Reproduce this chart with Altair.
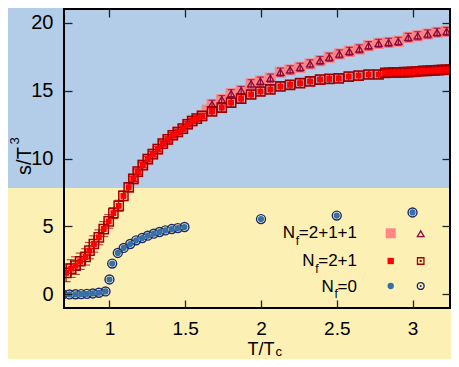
import altair as alt
import pandas as pd

FONT = "Liberation Sans"

x_tick_values = [1, 1.5, 2, 2.5, 3]
y_tick_values = [0, 5, 10, 15, 20]

# N_f = 2+1 : filled red squares + open squares (with errors)
t_21 = [0.714, 0.747, 0.776, 0.807, 0.842, 0.868, 0.897, 0.930, 0.962, 0.995,
        1.026, 1.061, 1.092, 1.127, 1.158, 1.187, 1.220, 1.253, 1.286, 1.319,
        1.352, 1.385, 1.418, 1.451, 1.484, 1.516, 1.546, 1.576, 1.611, 1.677,
        1.741, 1.803, 1.869, 1.935, 1.996, 2.062, 2.128, 2.192, 2.258, 2.324,
        2.390, 2.451, 2.513, 2.579, 2.644, 2.710, 2.776,
        2.820, 2.845, 2.870, 2.895, 2.920, 2.945, 2.970, 2.995, 3.020, 3.045,
        3.070, 3.095, 3.120, 3.145, 3.170, 3.195, 3.220, 3.245, 3.270, 3.295]
s_21 = [1.59, 1.90, 2.12, 2.44, 2.76, 3.22, 3.71, 4.20, 4.81, 5.37,
        5.98, 6.52, 7.25, 7.88, 8.50, 9.03, 9.52, 9.96, 10.32, 10.69,
        11.10, 11.40, 11.71, 11.95, 12.20, 12.52, 12.76, 12.94, 13.13, 13.47,
        13.74, 14.11, 14.40, 14.71, 14.93, 15.08, 15.30, 15.42, 15.54, 15.67,
        15.81, 15.86, 15.90, 16.03, 16.10, 16.18, 16.18,
        16.30, 16.31, 16.32, 16.33, 16.34, 16.35, 16.36, 16.37, 16.40, 16.42,
        16.44, 16.45, 16.46, 16.48, 16.50, 16.52, 16.53, 16.54, 16.55, 16.56]
err_21 = [0.65, 0.65, 0.65, 0.6, 0.6, 0.6, 0.6, 0.55, 0.55, 0.5,
          0.4, 0.4, 0.35, 0.3, 0.2, 0.2, 0.2, 0.2, 0.2, 0.2,
          0.2, 0.2, 0.2, 0.2, 0.2, 0.2, 0.2, 0.2, 0.2, 0.3,
          0.3, 0.3, 0.3, 0.3, 0.3, 0.3, 0.3, 0.3, 0.3, 0.3,
          0.3, 0.3, 0.3, 0.3, 0.3, 0.3, 0.3,
          0.25, 0.25, 0.25, 0.25, 0.25, 0.25, 0.25, 0.25, 0.25, 0.25,
          0.25, 0.25, 0.25, 0.25, 0.25, 0.25, 0.25, 0.25, 0.25, 0.25]

# N_f = 2+1+1 : open triangles (with errors)
t_211 = [1.677, 1.741, 1.803, 1.869, 1.935, 1.996, 2.062, 2.128, 2.192, 2.258,
         2.324, 2.390, 2.451, 2.517, 2.583, 2.649, 2.710, 2.776, 2.842, 2.906,
         2.972, 3.034, 3.100, 3.162, 3.225, 3.287]
s_211 = [13.98, 14.33, 14.77, 15.00, 15.50, 15.69, 15.91, 16.35, 16.52, 16.71,
         16.96, 17.20, 17.45, 17.69, 17.88, 18.06, 18.30, 18.47, 18.54, 18.62,
         18.91, 19.03, 19.16, 19.28, 19.35, 19.45]
err_211 = [0.3, 0.3, 0.3, 0.3, 0.3, 0.3, 0.3, 0.3, 0.3, 0.3,
           0.3, 0.3, 0.3, 0.3, 0.3, 0.3, 0.3, 0.3, 0.3, 0.3,
           0.3, 0.3, 0.3, 0.3, 0.3, 0.3]

# N_f = 2+1+1 : filled pink squares (band)
t_211b = [1.158, 1.187, 1.220, 1.253, 1.286, 1.319, 1.352, 1.385, 1.418, 1.451,
          1.484, 1.516, 1.546, 1.576, 1.611, 1.645,
          1.677, 1.741, 1.803, 1.869, 1.935, 1.996, 2.062, 2.128, 2.192, 2.258,
          2.324, 2.390, 2.451, 2.517, 2.583, 2.649, 2.710, 2.776, 2.842, 2.906,
          2.972, 3.034, 3.100, 3.162, 3.225, 3.287]
s_211b = [8.50, 9.03, 9.52, 9.96, 10.32, 10.69, 11.10, 11.40, 11.71, 11.95,
          12.20, 12.52, 12.76, 12.94, 13.13, 13.55,
          13.98, 14.33, 14.77, 15.00, 15.50, 15.69, 15.91, 16.35, 16.52, 16.71,
          16.96, 17.20, 17.45, 17.69, 17.88, 18.06, 18.30, 18.47, 18.54, 18.62,
          18.91, 19.03, 19.16, 19.28, 19.35, 19.45]

# N_f = 0 : blue circles
t_0 = [0.692, 0.736, 0.776, 0.813, 0.851, 0.890, 0.930, 0.974, 1.000, 1.018,
       1.055, 1.094, 1.137, 1.176, 1.216, 1.253, 1.292, 1.330, 1.369, 1.411,
       1.451, 1.495, 2.000, 2.500, 3.000]
s_0 = [0.00, 0.00, 0.01, 0.02, 0.04, 0.07, 0.12, 0.22, 1.10, 2.27,
       3.05, 3.42, 3.71, 3.98, 4.15, 4.32, 4.47, 4.59, 4.71, 4.81,
       4.88, 4.96, 5.54, 5.80, 6.03]

legend_suffix = ["=2+1+1", "=2+1", "=0"]

# ---------------------------------------------------------------------------
# page is 459x367 with an 8px margin -> the chart may use 443x351
W, H = 386, 299
PX_PER_X = 394 / 2.6
XMAX = 0.7 + W / PX_PER_X
XS = alt.Scale(domain=[0.7, XMAX], nice=False, zero=False)
YS = alt.Scale(domain=[-1, 21], nice=False, zero=False)

RED_DARK = "#a00000"
TRI = "#8c0a3c"
PINK = "#ff8080"
BLUE = "#3570a8"
NAVY = "#1c2a6e"

d21 = pd.DataFrame({"x": t_21, "y": s_21, "lo": [a - b for a, b in zip(s_21, err_21)],
                    "hi": [a + b for a, b in zip(s_21, err_21)]})
d211 = pd.DataFrame({"x": t_211, "y": s_211, "lo": [a - b for a, b in zip(s_211, err_211)],
                     "hi": [a + b for a, b in zip(s_211, err_211)]})
d211b = pd.DataFrame({"x": t_211b, "y": s_211b})
d0 = pd.DataFrame({"x": t_0, "y": s_0})
one = pd.DataFrame({"a": [0]})


def X(field="x", axis=None):
    return alt.X(f"{field}:Q", scale=XS, axis=axis)


def Y(field="y", axis=None):
    return alt.Y(f"{field}:Q", scale=YS, axis=axis)


# background split (blue top / yellow bottom)
bg = alt.Chart(pd.DataFrame({"yb": [7.83]})).mark_rect(color="#b3cde8").encode(
    x=alt.value(-70), x2=alt.value(W + 10), y=Y("yb"), y2=alt.value(-12))

pink = alt.Chart(d211b).mark_square(size=125, color=PINK, opacity=0.9, clip=True).encode(x=X(), y=Y())

tri_bar = alt.Chart(d211).mark_rule(color=TRI, strokeWidth=1.2, clip=True).encode(x=X(), y=Y("lo"), y2="hi")
tri_cap_lo = alt.Chart(d211).mark_tick(color=TRI, size=7, thickness=1.2, orient="horizontal", clip=True).encode(x=X(), y=Y("lo"))
tri_cap_hi = alt.Chart(d211).mark_tick(color=TRI, size=7, thickness=1.2, orient="horizontal", clip=True).encode(x=X(), y=Y("hi"))
tri = alt.Chart(d211).mark_point(shape="triangle-up", filled=False, size=50, color=TRI, strokeWidth=1.3,
                                 opacity=1, clip=True).encode(x=X(), y=Y())

sq_bar = alt.Chart(d21).mark_rule(color=RED_DARK, strokeWidth=1.2, clip=True).encode(x=X(), y=Y("lo"), y2="hi")
sq_cap_lo = alt.Chart(d21).mark_tick(color=RED_DARK, size=9, thickness=1.2, orient="horizontal", clip=True).encode(x=X(), y=Y("lo"))
sq_cap_hi = alt.Chart(d21).mark_tick(color=RED_DARK, size=9, thickness=1.2, orient="horizontal", clip=True).encode(x=X(), y=Y("hi"))
sq_open = alt.Chart(d21).mark_point(shape="square", filled=False, size=85, color=RED_DARK, strokeWidth=1.5,
                                    opacity=1, clip=True).encode(x=X(), y=Y())
sq_fill = alt.Chart(d21).mark_square(size=36, color="#ff0000", opacity=1, clip=True).encode(x=X(), y=Y())

ring = alt.Chart(d0).mark_point(shape="circle", filled=False, size=80, color=NAVY, strokeWidth=1.4,
                                opacity=1, clip=True).encode(x=X(), y=Y())
dot = alt.Chart(d0).mark_circle(size=38, color=BLUE, opacity=1, clip=True).encode(
    x=X(axis=alt.Axis(orient="bottom", values=x_tick_values, format="~g", domain=False, ticks=False,
                      tickSize=0, labelPadding=11, labelFontSize=19, labelFont=FONT, labelColor="black",
                      grid=False, title=None, labelFlush=False, zindex=2)),
    y=Y(axis=alt.Axis(orient="left", values=y_tick_values, format="d", domain=False, ticks=False,
                      tickSize=0, labelPadding=11, labelFontSize=20, labelFont=FONT, labelColor="black",
                      grid=False, title=None, zindex=2)))


def tick_axis(orient, vals):
    return alt.Axis(orient=orient, offset=-8, values=vals, domain=False, labels=False, ticks=True,
                    tickSize=8, tickColor="#222222", tickWidth=1.3, grid=False, title=None, zindex=2)


ax1 = alt.Chart(d0).mark_point(opacity=0).encode(
    x=X(axis=tick_axis("bottom", x_tick_values)), y=Y(axis=tick_axis("left", y_tick_values)))
ax2 = alt.Chart(d0).mark_point(opacity=0).encode(
    x=X(axis=tick_axis("top", x_tick_values)), y=Y(axis=tick_axis("right", y_tick_values)))

frame = alt.Chart(one).mark_rect(filled=False, stroke="black", strokeWidth=2).encode(
    x=alt.value(0), x2=alt.value(W), y=alt.value(0), y2=alt.value(H))

# ---- legend (inside the plot) ----
LFS = 17
cw = {"=": 0.584, "+": 0.584}
widths = [sum(cw.get(c, 0.556) for c in s) * LFS for s in legend_suffix]
right = 293
base = [229.3, 257.0, 282.7]
leg = pd.DataFrame({
    "suffix": legend_suffix,
    "ex": [right] * 3,
    "nx": [right - w - 3.8 for w in widths],
    "fx": [right - w + 0.3 for w in widths],
    "by": base,
    "fy": [b + 6.5 for b in base],
})
txt = dict(font=FONT, color="black")
leg_eq = alt.Chart(leg).mark_text(align="right", baseline="alphabetic", fontSize=LFS, **txt).encode(
    x=alt.X("ex:Q", scale=None), y=alt.Y("by:Q", scale=None), text="suffix:N")
leg_n = alt.Chart(leg).mark_text(align="right", baseline="alphabetic", fontSize=LFS, text="N", **txt).encode(
    x=alt.X("nx:Q", scale=None), y=alt.Y("by:Q", scale=None))
leg_f = alt.Chart(leg).mark_text(align="right", baseline="alphabetic", fontSize=12, text="f", **txt).encode(
    x=alt.X("fx:Q", scale=None), y=alt.Y("fy:Q", scale=None))

c1, c2 = 326.7, 356.7
r1, r2, r3 = 224.3, 252.0, 277.0

lg = [
    alt.Chart(one).mark_square(size=100, color=PINK, opacity=0.95).encode(x=alt.value(c1), y=alt.value(r1)),
    alt.Chart(one).mark_point(shape="triangle-up", filled=False, size=45, color=TRI, strokeWidth=1.3, opacity=1).encode(
        x=alt.value(c2), y=alt.value(r1 + 0.5)),
    alt.Chart(one).mark_square(size=40, color="#ff0000", opacity=1).encode(x=alt.value(c1), y=alt.value(r2)),
    alt.Chart(one).mark_point(shape="square", filled=False, size=42, color=RED_DARK, strokeWidth=1.3, opacity=1).encode(
        x=alt.value(c2), y=alt.value(r2)),
    alt.Chart(one).mark_square(size=4, color=RED_DARK, opacity=1).encode(x=alt.value(c2), y=alt.value(r2)),
    alt.Chart(one).mark_circle(size=40, color=BLUE, opacity=1).encode(x=alt.value(c1), y=alt.value(r3)),
    alt.Chart(one).mark_point(shape="circle", filled=False, size=48, color=NAVY, strokeWidth=1.3, opacity=1).encode(
        x=alt.value(c2), y=alt.value(r3)),
    alt.Chart(one).mark_circle(size=4, color=NAVY, opacity=1).encode(x=alt.value(c2), y=alt.value(r3)),
]

# ---- axis titles ----
xt1 = alt.Chart(one).mark_text(text="T/T", align="right", baseline="alphabetic", fontSize=18, **txt).encode(
    x=alt.value(210.5), y=alt.value(346))
xt2 = alt.Chart(one).mark_text(text="c", align="left", baseline="alphabetic", fontSize=13, **txt).encode(
    x=alt.value(211.5), y=alt.value(347.3))
yt1 = alt.Chart(one).mark_text(text="s/T", angle=270, align="center", baseline="alphabetic", fontSize=20, **txt).encode(
    x=alt.value(-33), y=alt.value(152))
yt2 = alt.Chart(one).mark_text(text="3", angle=270, align="center", baseline="alphabetic", fontSize=13, **txt).encode(
    x=alt.value(-45), y=alt.value(132))

chart = alt.layer(
    bg, pink, tri_bar, tri_cap_lo, tri_cap_hi, tri,
    sq_bar, sq_cap_lo, sq_cap_hi, sq_open, sq_fill,
    ring, dot, *lg, leg_eq, leg_n, leg_f, xt1, xt2, yt1, yt2, ax1, ax2, frame,
).resolve_axis(x="independent", y="independent").properties(
    width=W, height=H,
    autosize=alt.AutoSizeParams(type="none"),
    padding={"left": 56, "top": 1, "right": 1, "bottom": 51},
    background="#fdf0b5",
).configure_view(stroke=None)

chart.save("out.html", embed_options={"renderer": "svg", "actions": False})
